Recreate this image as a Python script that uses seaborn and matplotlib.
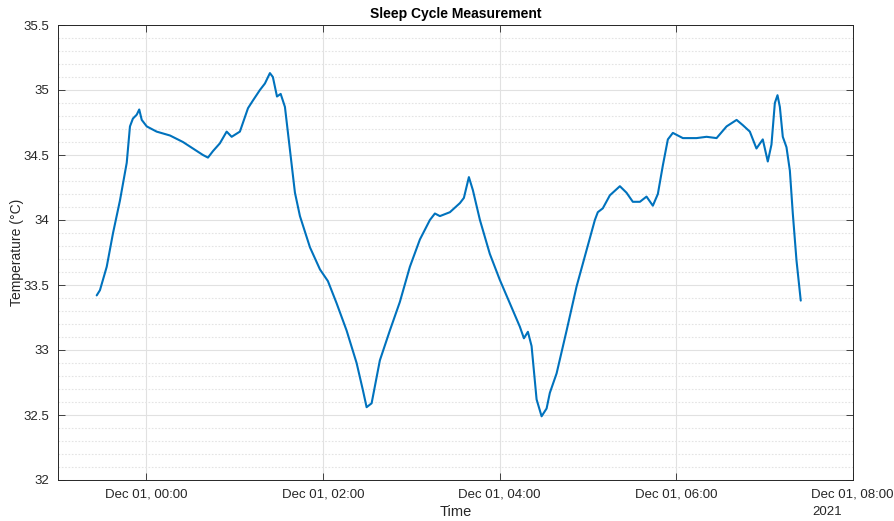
import matplotlib
matplotlib.use("Agg")
import matplotlib.pyplot as plt
import matplotlib.dates as mdates
from matplotlib.ticker import MultipleLocator
import numpy as np
import pandas as pd
import seaborn as sns

# Skin temperature readings: minutes after 2021-11-30 23:00 and degrees Celsius
minutes = [
    26.3, 28.5, 33.1, 37.4, 42.1, 46.7, 48.9, 50.9, 53.5, 55.2, 56.9, 60.3,
    67.0, 76.1, 84.9, 91.7, 98.5, 101.9, 105.3, 110.0, 114.6, 118.0, 123.6,
    129.1, 132.5, 137.2, 140.6, 144.0, 146.0, 148.8, 151.3, 154.2, 157.6,
    161.0, 164.4, 171.2, 178.0, 183.4, 189.3, 196.1, 202.9, 207.2, 209.7,
    213.1, 218.7, 225.5, 232.3, 239.1, 245.9, 252.7, 256.1, 259.5, 266.3,
    273.1, 275.8, 279.2, 281.9, 286.7, 293.4, 300.2, 307.0, 313.8, 316.6,
    319.3, 321.8, 325.2, 328.6, 332.0, 334.2, 338.8, 345.6, 352.4, 359.2,
    364.8, 366.8, 370.2, 375.0, 381.8, 386.3, 390.6, 395.4, 399.9, 404.2,
    407.6, 411.0, 414.4, 417.8, 424.6, 433.9, 440.7, 447.5, 454.3, 461.1,
    465.3, 470.1, 474.6, 478.9, 482.3, 484.8, 487.1, 488.9, 490.5, 492.5,
    495.0, 497.3, 499.3, 501.8, 504.7,
]
temperature = [
    33.42, 33.46, 33.64, 33.90, 34.15, 34.44, 34.72, 34.78, 34.81, 34.85, 34.77, 34.72,
    34.68, 34.65, 34.60, 34.55, 34.50, 34.48, 34.53, 34.59, 34.68, 34.64, 34.68,
    34.86, 34.92, 35.00, 35.05, 35.13, 35.10, 34.95, 34.97, 34.87, 34.54,
    34.21, 34.03, 33.79, 33.62, 33.53, 33.36, 33.15, 32.90, 32.69, 32.56,
    32.59, 32.92, 33.15, 33.37, 33.64, 33.85, 34.00, 34.05, 34.03, 34.06,
    34.13, 34.17, 34.33, 34.23, 34.00, 33.74, 33.54, 33.36, 33.18, 33.09,
    33.14, 33.03, 32.62, 32.49, 32.55, 32.67, 32.82, 33.15, 33.49, 33.77,
    34.00, 34.06, 34.09, 34.19, 34.26, 34.21, 34.14, 34.14, 34.18, 34.11,
    34.20, 34.42, 34.62, 34.67, 34.63, 34.63, 34.64, 34.63, 34.72, 34.77,
    34.73, 34.68, 34.55, 34.62, 34.45, 34.58, 34.90, 34.96, 34.87, 34.64,
    34.56, 34.38, 34.05, 33.69, 33.38,
]
y_ticks = [32, 32.5, 33, 33.5, 34, 34.5, 35, 35.5]
y_tick_labels = ["32", "32.5", "33", "33.5", "34", "34.5", "35", "35.5"]

start = pd.Timestamp("2021-11-30 23:00")
df = pd.DataFrame({
    "Time": start + pd.to_timedelta(minutes, unit="m"),
    "Temperature": temperature,
})

sns.set_theme(style="white")
plt.rcParams["font.family"] = ["Liberation Sans", "DejaVu Sans"]

axis_color = "#262626"
fig = plt.figure(figsize=(8.95, 5.21), dpi=100)
ax = fig.add_axes([58 / 895, 41 / 521, 794.7 / 895, 455 / 521])

sns.lineplot(data=df, x="Time", y="Temperature", color="#0072BD",
             linewidth=1.5, ax=ax)

ax.set_xlim(start, pd.Timestamp("2021-12-01 08:00"))
ax.set_ylim(32, 35.5)

ax.xaxis.set_major_locator(mdates.HourLocator(byhour=[0, 2, 4, 6, 8]))
ax.xaxis.set_major_formatter(mdates.DateFormatter("%b %d, %H:%M"))
ax.set_yticks(y_ticks)
ax.set_yticklabels(y_tick_labels)
ax.yaxis.set_minor_locator(MultipleLocator(0.1))

ax.grid(True, which="major", color="#e1e1e1", linewidth=0.8, linestyle="-")
ax.grid(True, which="minor", axis="y", color="#e4e4e4", linewidth=0.8,
        linestyle=(0, (1.5, 1.5)))
ax.set_axisbelow(True)

ax.tick_params(which="major", direction="in", length=5, width=0.6,
               colors=axis_color, labelsize=9.5, top=True, right=True,
               bottom=True, left=True, pad=6)
ax.tick_params(which="minor", length=0)
for spine in ax.spines.values():
    spine.set_visible(True)
    spine.set_color(axis_color)
    spine.set_linewidth(0.7)

ax.set_title("Sleep Cycle Measurement", fontsize=10, fontweight="bold",
             color="black", pad=5)
ax.set_xlabel("Time", fontsize=10.5, color=axis_color, labelpad=3)
ax.set_ylabel("Temperature (\u00b0C)", fontsize=10, color=axis_color,
              labelpad=2)
ax.yaxis.set_label_coords(-34 / 794.7, 0.5)
fig.text(812 / 895, 1 - 512 / 521, "2021", fontsize=9.5, color=axis_color,
         ha="left", va="center")

fig.savefig("out.png", dpi=100, facecolor="white")
